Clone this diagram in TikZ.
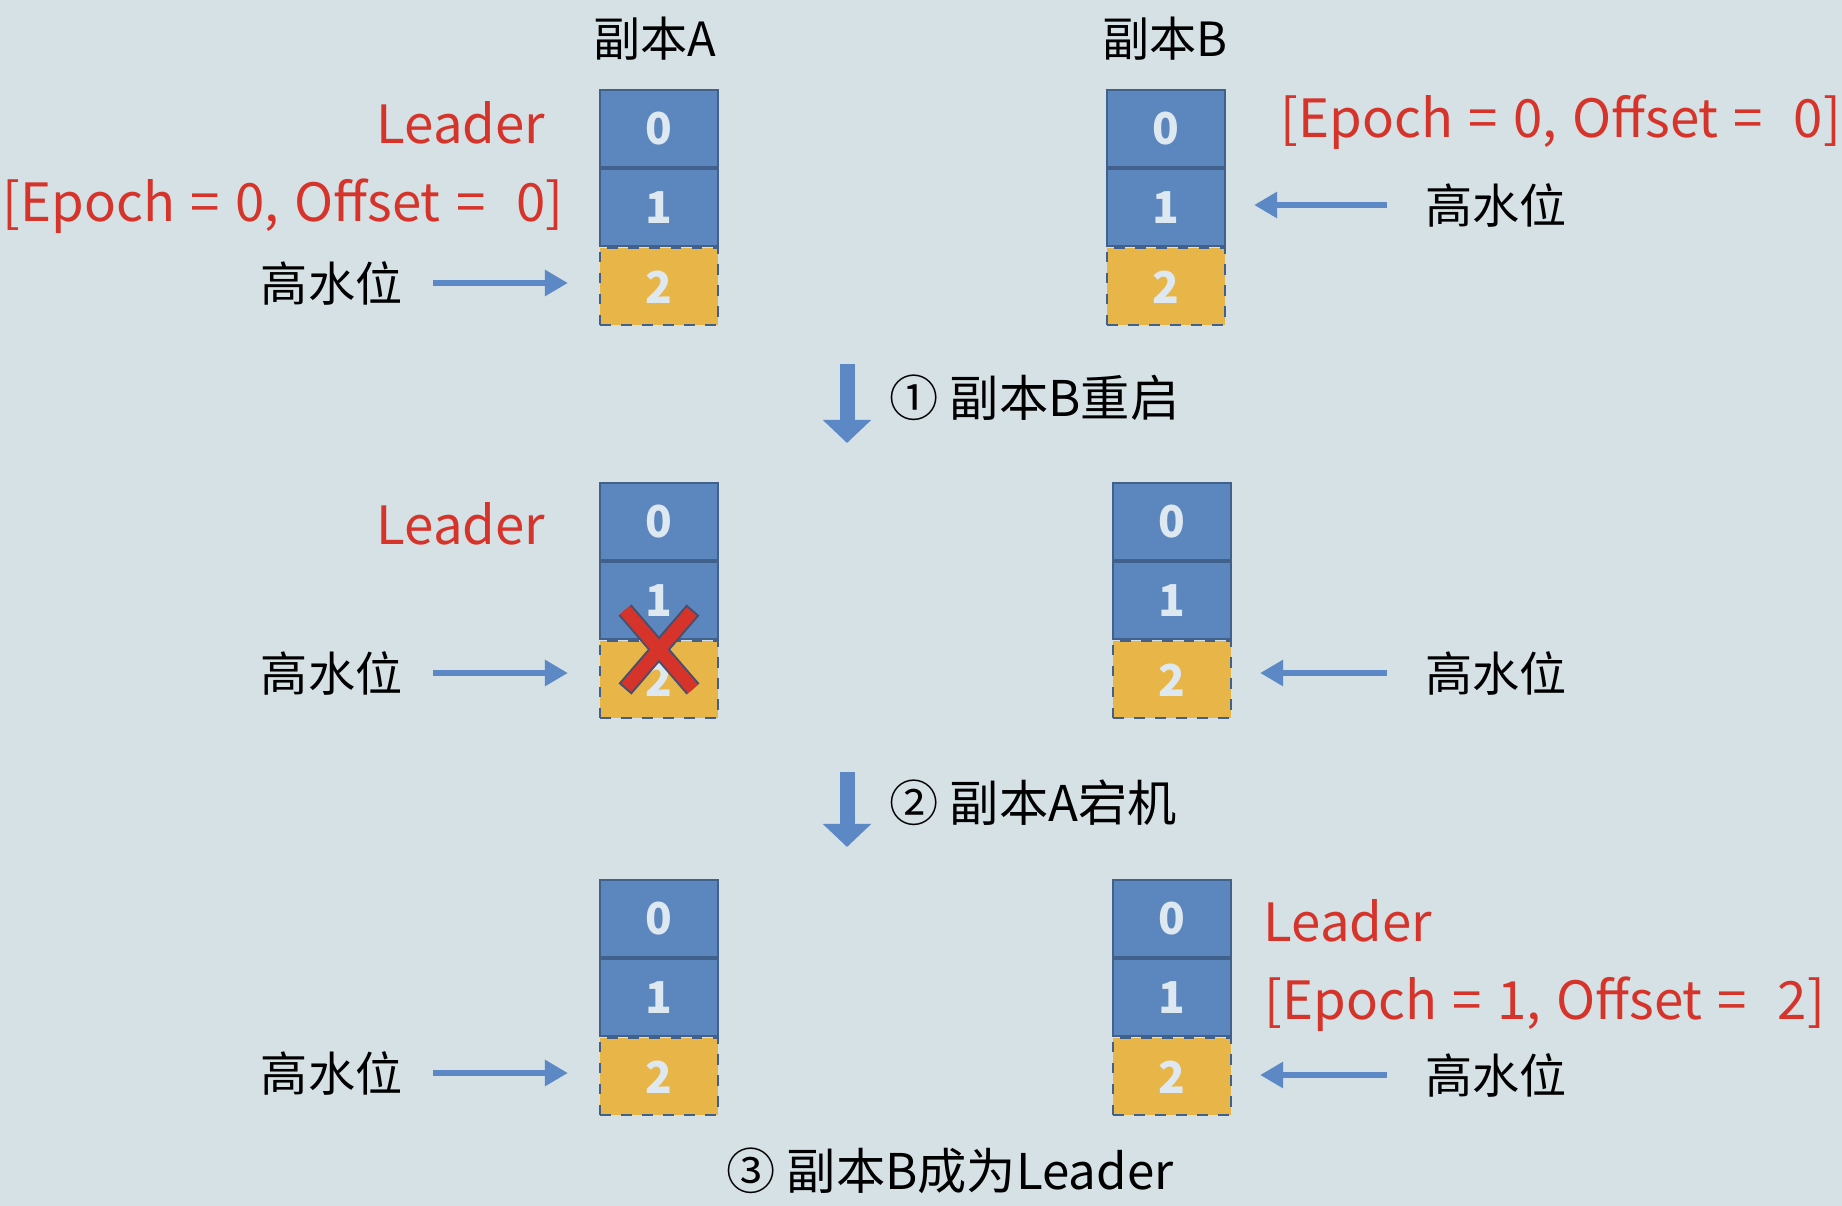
\documentclass[tikz,border=0pt]{standalone}
\usepackage{fontspec}
\setmainfont{Noto Sans CJK SC}
\newfontfamily\redfont[WordSpace=1.3]{Noto Sans CJK SC}
\usepackage{xcolor}
\usetikzlibrary{arrows.meta,positioning}

\definecolor{bgcol}{RGB}{213,225,229}
\definecolor{cellblue}{RGB}{92,134,190}
\definecolor{cellline}{RGB}{65,96,140}
\definecolor{cellyellow}{RGB}{232,182,72}
\definecolor{celltext}{RGB}{222,232,240}
\definecolor{leadred}{RGB}{214,52,42}
\definecolor{arrowblue}{RGB}{92,137,197}
\definecolor{xline}{RGB}{70,80,110}

\tikzset{
  cell/.style={draw=cellline, fill=cellblue, line width=0.6pt, inner sep=0pt,
    minimum width=1.18cm, minimum height=0.77cm, text=celltext,
    font=\fontsize{12.5}{14}\selectfont\bfseries},
  newcell/.style={cell, fill=cellyellow, dashed},
  lbl/.style={inner sep=0pt, font=\fontsize{13.4}{16}\selectfont},
  steplbl/.style={lbl, font=\fontsize{14}{17}\selectfont},
  redlbl/.style={lbl, text=leadred, font=\fontsize{15}{18}\redfont},
  hw/.style={arrowblue, line width=1.7pt, -{Triangle[length=0.23cm,width=0.25cm]}},
  stepa/.style={arrowblue, line width=0.15cm, -{Triangle[length=0.23cm,width=0.47cm]}},
}

\begin{document}
\begin{tikzpicture}[x=0.01cm, y=-0.01cm]
  \useasboundingbox[fill=bgcol] (0,0) rectangle (1842,1206);
  % --- headers ---
  \node[lbl] (titleA) at (655,39) {副本A};
  \node[lbl] (titleB) at (1165,39) {副本B};

  % --- row 1 ---
  \node[cell] (a10) at (659,128.5) {0};
  \node[cell, below=0pt of a10] (a11) {1};
  \node[newcell, below=0pt of a11] (a12) {2};
  \node[cell] (b10) at (1166,128.5) {0};
  \node[cell, below=0pt of b10] (b11) {1};
  \node[newcell, below=0pt of b11] (b12) {2};
  \node[redlbl, anchor=east] (leadA1) at (546,123) {Leader};
  \node[redlbl, anchor=east] (epochA1) at (564,206) {[Epoch = 0, Offset =\ \ 0]};
  \node[redlbl, anchor=west] (epochB1) at (1280,122) {[Epoch = 0, Offset =\ \ 0]};
  \node[lbl, anchor=east] (hwA1) at (403,283) {高水位};
  \node[lbl, anchor=west] (hwB1) at (1425,205) {高水位};
  \draw[hw, shorten <=0.3cm, shorten >=0.31cm] (hwA1.east) -- (hwA1.east -| a12.west);
  \draw[hw, shorten <=0.38cm, shorten >=0.28cm] (hwB1.west) -- (hwB1.west -| b11.east);

  % --- step 1 ---
  \coordinate (s1top) at (847,364);
  \coordinate (s1tip) at (847,443);
  \draw[stepa] (s1top) -- (s1tip);
  \node[steplbl, anchor=west] (step1) at (889,398) {① 副本B重启};

  % --- row 2 ---
  \node[cell] (a20) at (659,521.5) {0};
  \node[cell, below=0pt of a20] (a21) {1};
  \node[newcell, below=0pt of a21] (a22) {2};
  \node[cell] (b20) at (1172,521.5) {0};
  \node[cell, below=0pt of b20] (b21) {1};
  \node[newcell, below=0pt of b21] (b22) {2};
  \node[redlbl, anchor=east] (leadA2) at (546,524) {Leader};
  \node[lbl, anchor=east] (hwA2) at (403,673) {高水位};
  \node[lbl, anchor=west] (hwB2) at (1425,673) {高水位};
  \draw[hw, shorten <=0.3cm, shorten >=0.31cm] (hwA2.east) -- (hwA2.east -| a22.west);
  \draw[hw, shorten <=0.38cm, shorten >=0.28cm] (hwB2.west) -- (hwB2.west -| b22.east);
  % red cross over A
  \draw[xline, line width=0.17cm] (625,610) -- (693,689) (625,689) -- (693,610);
  \draw[leadred, line width=0.13cm, shorten <=0.02cm, shorten >=0.02cm]
    (625,610) -- (693,689) (625,689) -- (693,610);

  % --- step 2 ---
  \coordinate (s2top) at (847,772);
  \coordinate (s2tip) at (847,847);
  \draw[stepa] (s2top) -- (s2tip);
  \node[steplbl, anchor=west] (step2) at (889,803) {② 副本A宕机};

  % --- row 3 ---
  \node[cell] (a30) at (659,918.5) {0};
  \node[cell, below=0pt of a30] (a31) {1};
  \node[newcell, below=0pt of a31] (a32) {2};
  \node[cell] (b30) at (1172,918.5) {0};
  \node[cell, below=0pt of b30] (b31) {1};
  \node[newcell, below=0pt of b31] (b32) {2};
  \node[redlbl, anchor=west] (leadB3) at (1263,921) {Leader};
  \node[redlbl, anchor=west] (epochB3) at (1264,1004) {[Epoch = 1, Offset =\ \ 2]};
  \node[lbl, anchor=east] (hwA3) at (403,1073) {高水位};
  \node[lbl, anchor=west] (hwB3) at (1425,1075) {高水位};
  \draw[hw, shorten <=0.3cm, shorten >=0.31cm] (hwA3.east) -- (hwA3.east -| a32.west);
  \draw[hw, shorten <=0.38cm, shorten >=0.28cm] (hwB3.west) -- (hwB3.west -| b32.east);

  % --- step 3 ---
  \node[steplbl] (step3) at (950,1171) {③ 副本B成为Leader};
\end{tikzpicture}
\end{document}
